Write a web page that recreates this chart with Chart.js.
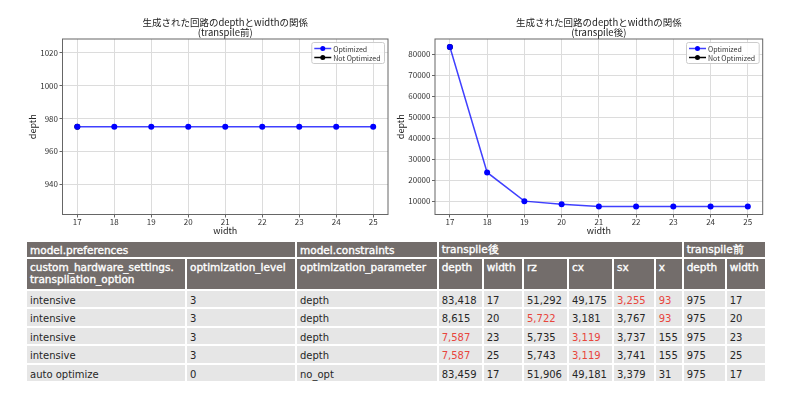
<!DOCTYPE html>
<html><head><meta charset="utf-8">
<script src="https://cdn.jsdelivr.net/npm/chart.js@4/dist/chart.umd.min.js"></script>
<style>
html,body{margin:0;padding:0;background:#fff;width:800px;height:397px;overflow:hidden;}
#c1{position:absolute;left:0;top:0;}
#c2{position:absolute;left:392px;top:0;}
#tbl{position:absolute;left:25px;top:240px;border-collapse:collapse;table-layout:fixed;font-family:'DejaVu Sans',sans-serif;font-size:10px;color:#262626;}
#tbl td,#tbl th{border:2px solid #fff;padding:0 0 0 3px;overflow:hidden;white-space:nowrap;text-align:left;}
#tbl th{background:#736d6b;color:#fff;font-weight:normal;font-size:10.5px;-webkit-text-stroke:0.35px #fff;}
#tbl tr.g th{height:14px;vertical-align:middle;padding-top:1px;}
#tbl tr.h th{height:28px;vertical-align:top;line-height:12.5px;padding-top:1.5px;white-space:pre;}
#tbl td{background:#e6e6e6;height:13.5px;vertical-align:middle;padding-top:3px;}
#tbl td.red{color:#e8453c;}
</style></head><body>
<canvas id="c1" width="392" height="240"></canvas>
<canvas id="c2" width="408" height="240"></canvas>
<table id="tbl"></table>
<script>
// ---- chart data ----
const widths = [17, 18, 19, 20, 21, 22, 23, 24, 25];
const depthBeforeOptimized = [975, 975, 975, 975, 975, 975, 975, 975, 975];
const depthAfterOptimized = [83418, 23800, 10150, 8615, 7587, 7587, 7587, 7587, 7587];
const notOptWidths = [17];
const depthBeforeNotOptimized = [975];
const depthAfterNotOptimized = [83459];
const xTickValues = [17, 18, 19, 20, 21, 22, 23, 24, 25];
const yTicksBefore = [940, 960, 980, 1000, 1020];
const yTicksAfter = [10000, 20000, 30000, 40000, 50000, 60000, 70000, 80000];
const seriesLabels = ['Optimized', 'Not Optimized'];
const titleLine1 = '生成された回路のdepthとwidthの関係';
const titleBefore = '(transpile前)';
const titleAfter = '(transpile後)';

// ---- table data ----
const headerGroups = [['model.preferences', 2], ['model.constraints', 1], ['transpile後', 6], ['transpile前', 2]];
const columnHeaders = ['custom_hardware_settings.\ntranspilation_option', 'optimization_level', 'optimization_parameter', 'depth', 'width', 'rz', 'cx', 'sx', 'x', 'depth', 'width'];
const tableRows = [
  ['intensive', '3', 'depth', '83,418', '17', '51,292', '49,175', '3,255', '93', '975', '17'],
  ['intensive', '3', 'depth', '8,615', '20', '5,722', '3,181', '3,767', '93', '975', '20'],
  ['intensive', '3', 'depth', '7,587', '23', '5,735', '3,119', '3,737', '155', '975', '23'],
  ['intensive', '3', 'depth', '7,587', '25', '5,743', '3,119', '3,741', '155', '975', '25'],
  ['auto optimize', '0', 'no_opt', '83,459', '17', '51,906', '49,181', '3,379', '31', '975', '17']
];
const highlightedCells = [[0, 7], [0, 8], [1, 5], [1, 8], [2, 3], [2, 6], [3, 3], [3, 6]];
const columnWidths = [160, 110, 141.7, 45, 40.3, 45, 45, 41.7, 28, 43, 40.3];

// ---- build table ----
(function () {
  const t = document.getElementById('tbl');
  const cg = document.createElement('colgroup');
  columnWidths.forEach(w => { const c = document.createElement('col'); c.style.width = w + 'px'; cg.appendChild(c); });
  t.appendChild(cg);
  const tr1 = document.createElement('tr'); tr1.className = 'g';
  headerGroups.forEach(([txt, span]) => { const th = document.createElement('th'); th.colSpan = span; th.textContent = txt; tr1.appendChild(th); });
  t.appendChild(tr1);
  const tr2 = document.createElement('tr'); tr2.className = 'h';
  columnHeaders.forEach(txt => { const th = document.createElement('th'); th.textContent = txt; tr2.appendChild(th); });
  t.appendChild(tr2);
  tableRows.forEach((row, r) => {
    const tr = document.createElement('tr');
    row.forEach((v, c) => {
      const td = document.createElement('td'); td.textContent = v;
      if (highlightedCells.some(([hr, hc]) => hr === r && hc === c)) td.className = 'red';
      tr.appendChild(td);
    });
    t.appendChild(tr);
  });
})();

// ---- charts ----
const FONT = "'Noto Sans CJK JP', 'DejaVu Sans', sans-serif";
const frameColor = '#666';

const framePlugin = {
  id: 'frame',
  beforeDatasetsDraw(chart) {
    const { ctx, chartArea: a } = chart;
    ctx.save();
    ctx.strokeStyle = frameColor; ctx.lineWidth = 1;
    ctx.strokeRect(a.left, a.top, a.right - a.left, a.bottom - a.top);
    ctx.restore();
  }
};

const legendPlugin = {
  id: 'mplLegend',
  afterDatasetsDraw(chart) {
    const { ctx, chartArea: a } = chart;
    const ds = chart.data.datasets;
    ctx.save();
    ctx.font = '7px ' + FONT;
    const tw = Math.max(...ds.map(d => ctx.measureText(d.label).width));
    const w = 22 + tw + 3.5, h = 21;
    const x = a.right - 4 - w, y = a.top + 3;
    ctx.beginPath();
    ctx.roundRect(x + 0.5, y + 0.5, w, h, 2);
    ctx.fillStyle = 'rgba(255,255,255,0.85)'; ctx.fill();
    ctx.strokeStyle = '#cccccc'; ctx.lineWidth = 1; ctx.stroke();
    ds.forEach((d, i) => {
      const cy = y + 6.5 + i * 9;
      ctx.beginPath(); ctx.moveTo(x + 3, cy); ctx.lineTo(x + 20, cy);
      ctx.strokeStyle = d.borderColor; ctx.lineWidth = 1.5; ctx.stroke();
      ctx.beginPath(); ctx.arc(x + 11.5, cy, 2.5, 0, Math.PI * 2);
      ctx.fillStyle = d.pointBackgroundColor; ctx.fill();
      ctx.fillStyle = '#333'; ctx.textBaseline = 'middle'; ctx.textAlign = 'left';
      ctx.fillText(d.label, x + 22, cy + 0.5);
    });
    ctx.restore();
  }
};

function pts(xs, ys) { return xs.map((x, i) => ({ x, y: ys[i] })); }

function makeChart(id, opt) {
  return new Chart(document.getElementById(id), {
    type: 'line',
    data: {
      datasets: [
        { label: seriesLabels[0], data: pts(widths, opt.opt), borderColor: 'rgba(0,0,255,0.75)', backgroundColor: '#0000ff',
          pointBackgroundColor: '#0000ff', pointBorderColor: '#0000ff', pointRadius: 3, pointBorderWidth: 0, borderWidth: 1.5, tension: 0 },
        { label: seriesLabels[1], data: pts(notOptWidths, opt.notOpt), borderColor: '#000000', backgroundColor: '#000000',
          pointBackgroundColor: '#000000', pointBorderColor: '#000000', pointRadius: 3, pointBorderWidth: 0, borderWidth: 1.5 }
      ]
    },
    options: {
      responsive: false, animation: false, devicePixelRatio: 1,
      layout: { padding: { left: 0, right: opt.padRight, top: 0, bottom: 0 } },
      plugins: {
        legend: { display: false }, tooltip: { enabled: false },
        title: { display: true, fullSize: false, text: [titleLine1, opt.sub], color: '#222',
          font: { family: FONT, size: 9.5, weight: 'normal', lineHeight: '10px' }, padding: { top: 17.7, bottom: 1.3 } }
      },
      scales: {
        x: {
          type: 'linear', min: 16.6, max: 25.4,
          afterBuildTicks: s => { s.ticks = xTickValues.map(v => ({ value: v })); },
          afterFit: s => { s.height = 25.5; },
          grid: { color: '#dcdcdc', tickColor: frameColor, tickLength: 3, drawTicks: true },
          border: { display: false },
          ticks: { color: '#333', font: { family: FONT, size: 8 }, padding: 0, maxRotation: 0, autoSkip: false },
          title: { display: true, text: 'width', color: '#222', font: { family: FONT, size: 9 }, padding: { top: 0, bottom: 3.6 } }
        },
        y: {
          type: 'linear', min: opt.ymin, max: opt.ymax,
          afterBuildTicks: s => { s.ticks = opt.yticks.map(v => ({ value: v })); },
          afterFit: s => { s.width = opt.yWidth; },
          grid: { color: '#dcdcdc', tickColor: frameColor, tickLength: 3, drawTicks: true },
          border: { display: false },
          ticks: { color: '#333', font: { family: FONT, size: 8 }, padding: 1.5, callback: v => String(v) },
          title: { display: true, text: 'depth', color: '#222', font: { family: FONT, size: 9 }, padding: { top: opt.yTitlePad, bottom: 0 } }
        }
      }
    },
    plugins: [framePlugin, legendPlugin]
  });
}

makeChart('c1', { opt: depthBeforeOptimized, notOpt: depthBeforeNotOptimized, sub: titleBefore,
  ymin: 921.5, ymax: 1028.5, yticks: yTicksBefore, yWidth: 62.5, yTitlePad: 27.6, padRight: 1 });
makeChart('c2', { opt: depthAfterOptimized, notOpt: depthAfterNotOptimized, sub: titleAfter,
  ymin: 3793, ymax: 87253, yticks: yTicksAfter, yWidth: 43, yTitlePad: 3.1, padRight: 37.3 });
</script>
</body></html>
